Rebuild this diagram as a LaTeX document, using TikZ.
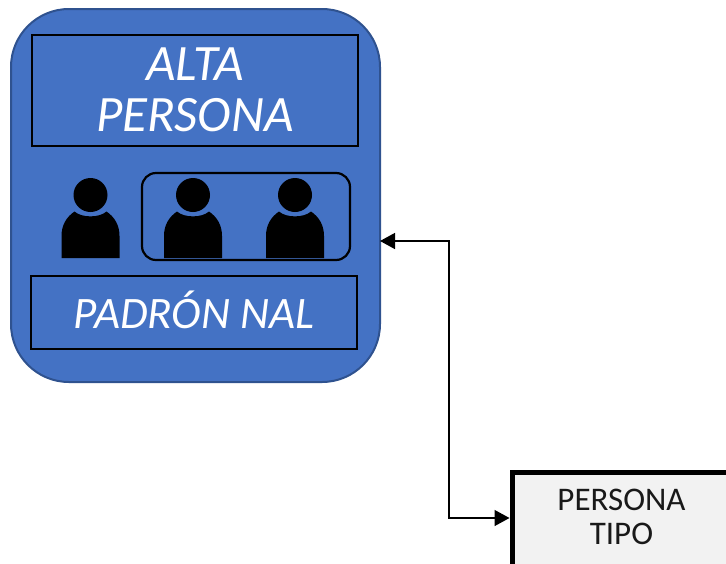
\documentclass[tikz,border=0pt]{standalone}
\usepackage{fontspec}
\setmainfont{Carlito}
\usetikzlibrary{arrows.meta,calc}
\tikzset{
  x=1pt,y=-1pt,
  mainbox/.style={draw=mainedge,fill=mainblue,line width=2pt,outer sep=0pt,rounded corners=58pt,minimum width=369pt,minimum height=373pt,inner sep=0pt},
  titlebox/.style={draw=black,line width=1.4pt,fill=none,inner sep=0pt,text=white,align=center,font=\fontsize{51}{51}\selectfont\itshape},
  groupbox/.style={draw=black,line width=2.2pt,rounded corners=14pt,minimum width=208pt,minimum height=87pt,inner sep=0pt},
  tipobox/.style={draw=black,fill=tipofill,line width=5pt,minimum width=230pt,minimum height=110pt,inner sep=0pt},
  tipotext/.style={inner sep=0pt,align=center,font=\fontsize{33}{34}\selectfont,text=black!90},
  link/.style={draw=black,line width=1.4pt,{Triangle[length=15pt,width=16pt]}-{Triangle[length=15pt,width=16pt]}},
  pics/person/.style={code={
    \fill[black] (0,-23) circle (17);
    \fill[black] (-29,40) -- (-29,18) .. controls (-29,7) and (-24,-1) .. (-16,-6.5)
       .. controls (-9,0) and (9,0) .. (16,-6.5)
       .. controls (24,-1) and (29,7) .. (29,18) -- (29,40) -- cycle;
  }}
}
\definecolor{mainblue}{HTML}{4472C4}
\definecolor{mainedge}{HTML}{2F528F}
\definecolor{tipofill}{HTML}{F2F2F2}
\begin{document}
\begin{tikzpicture}
\useasboundingbox (0,0) rectangle (726,563);
\clip (0,0) rectangle (726,563);
\node[mainbox] (main) at (195.5,195.5) {};
\node[titlebox,minimum width=326pt,minimum height=111pt] (alta) at (195,90.5) {\raisebox{1pt}{ALTA}\\\raisebox{1pt}{PERSONA}};
\node[titlebox,minimum width=326pt,minimum height=73pt] (padron) at (194,312.5) {\fontsize{45}{50}\selectfont\raisebox{5pt}{PADRÓN NAL}};
\node[groupbox] (group) at (246,216.5) {};
\pic at (90.5,218) {person};
\pic at (193,218) {person};
\pic at (295,218) {person};
\node[tipobox] (tipo) at (627,527) {};
\node[tipotext] (tipolabel) at (621.5,517) {PERSONA\\TIPO};
\coordinate (bend) at (449,0);
\coordinate (tipoport) at (tipo.west |- 0,518);
\draw[link] (main.east |- 0,241) -- (bend |- 0,241) -- (bend |- tipoport) -- (tipoport);
\end{tikzpicture}
\end{document}
